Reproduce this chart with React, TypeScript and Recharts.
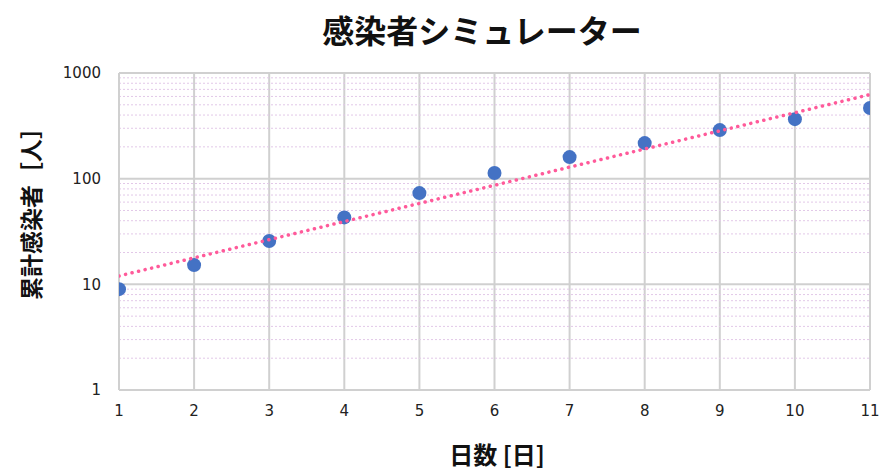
import React from "react"
import {
  ScatterChart,
  Scatter,
  XAxis,
  YAxis,
  CartesianGrid,
  ReferenceLine,
} from "recharts"

// 日数 and cumulative cases
const days = [1, 2, 3, 4, 5, 6, 7, 8, 9, 10, 11]
const cases = [9, 15.2, 25.7, 43, 73, 113, 160, 217, 288, 366, 466]

// exponential trendline end points
const trendDays = [1, 11]
const trendCases = [12, 625]

const yTicks = [1, 10, 100, 1000]
const minorTicks = [2, 3, 4, 5, 6, 7, 8, 9, 20, 30, 40, 50, 60, 70, 80, 90, 200, 300, 400, 500, 600, 700, 800, 900]

const points = days.map((d, i) => ({ day: d, count: cases[i] }))
const trend = trendDays.map((d, i) => ({ day: d, count: trendCases[i] }))

const tickFont = { fontFamily: "'DejaVu Sans', sans-serif", fontSize: 15, fill: "#222" }
const jpFont = "'Noto Sans CJK JP', sans-serif"

const Dot = (props: any) => <circle cx={props.cx} cy={props.cy} r={7} fill="#4472C4" />
const NoDot = () => null

export default function App() {
  return (
    <div style={{ position: "absolute", left: 0, top: 0, width: 895, height: 476, background: "#fff" }}>
      <div
        style={{
          position: "absolute",
          left: 0,
          width: 964,
          top: 6,
          textAlign: "center",
          fontFamily: jpFont,
          fontWeight: 700,
          fontSize: 32,
          color: "#111",
        }}
      >
        感染者シミュレーター
      </div>
      <div
        style={{
          position: "absolute",
          left: 0,
          width: 994,
          top: 436,
          textAlign: "center",
          fontFamily: jpFont,
          fontWeight: 700,
          fontSize: 24,
          color: "#111",
        }}
      >
        日数 [日]
      </div>
      <div
        style={{
          position: "absolute",
          left: 30,
          top: 208,
          transform: "translate(-50%, -50%) rotate(-90deg)",
          whiteSpace: "nowrap",
          fontFamily: jpFont,
          fontWeight: 700,
          fontSize: 23,
          color: "#111",
        }}
      >
        累計感染者［人］
      </div>
      <ScatterChart
        width={895}
        height={476}
        margin={{ top: 73, right: 25, bottom: 56, left: 59 }}
      >
        <CartesianGrid stroke="#d0d0d0" strokeWidth={2} />
        {minorTicks.map((v) => (
          <ReferenceLine key={v} y={v} stroke="#e2c8e8" strokeDasharray="2 2" strokeWidth={1} />
        ))}
        <XAxis
          type="number"
          dataKey="day"
          domain={[1, 11]}
          ticks={days}
          tick={tickFont}
          tickLine={false}
          tickSize={0}
          tickMargin={15}
          axisLine={{ stroke: "#d0d0d0", strokeWidth: 2 }}
          height={30}
          allowDataOverflow
        />
        <YAxis
          type="number"
          dataKey="count"
          scale="log"
          domain={[1, 1000]}
          ticks={yTicks}
          tick={tickFont}
          tickLine={false}
          tickSize={0}
          tickMargin={18}
          axisLine={{ stroke: "#d0d0d0", strokeWidth: 2 }}
          width={60}
          allowDataOverflow
        />
        <Scatter data={points} shape={Dot} isAnimationActive={false} />
        <Scatter
          data={trend}
          shape={NoDot}
          line={{ stroke: "#FF5A9A", strokeWidth: 3.5, strokeDasharray: "0.1 6.6", strokeLinecap: "round" }}
          isAnimationActive={false}
        />
      </ScatterChart>
    </div>
  )
}
